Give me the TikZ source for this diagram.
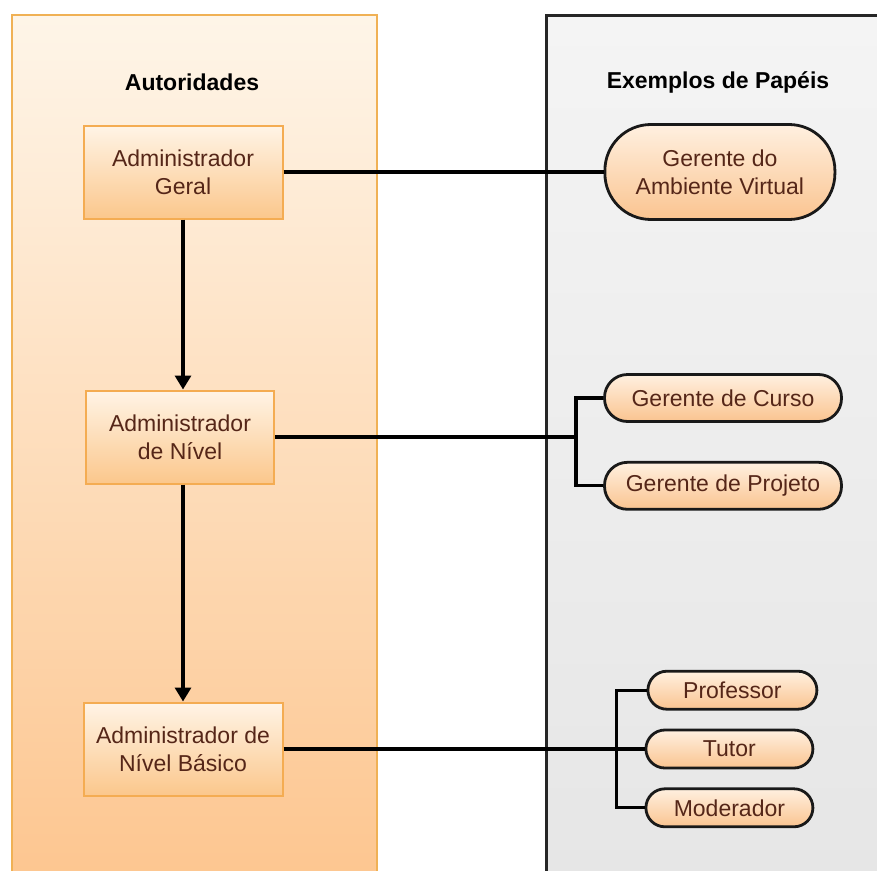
\documentclass[tikz,border=0pt]{standalone}
\usepackage{fontspec}
\setmainfont{Liberation Sans}
\usepackage{xcolor}
\usetikzlibrary{positioning}
\usetikzlibrary{arrows.meta}
\definecolor{panelTop}{HTML}{FEF5E8}
\definecolor{panelBot}{HTML}{FDC690}
\definecolor{panelLine}{HTML}{F0B155}
\definecolor{grayTop}{HTML}{F4F4F4}
\definecolor{grayBot}{HTML}{E6E6E6}
\definecolor{boxTop}{HTML}{FFF4E6}
\definecolor{boxBot}{HTML}{FBC78C}
\definecolor{boxLine}{HTML}{F4AC52}
\definecolor{pillTop}{HTML}{FFF0E0}
\definecolor{pillBot}{HTML}{FAC490}
\definecolor{txt}{HTML}{552618}
\tikzset{adm/.style={rectangle, draw=boxLine, line width=2pt, top color=boxTop, bottom color=boxBot, text=txt, align=center, minimum width=199pt, minimum height=93pt, font=\fontsize{23}{28}\selectfont}}
\tikzset{pill/.style={rectangle, rounded corners=19pt, draw=black!90, line width=2.8pt, top color=pillTop, bottom color=pillBot, text=txt, align=center, font=\fontsize{23}{28}\selectfont}}
\tikzset{link/.style={line width=3.2pt}}
\tikzset{head/.style={font=\bfseries\fontsize{23}{28}\selectfont}}

\begin{document}
\begin{tikzpicture}[x=1pt, y=-1pt, node distance=38pt]
\useasboundingbox (0,0) rectangle (877,870);
\clip (0,0) rectangle (877,870);
\draw[panelLine, line width=2.5pt, top color=panelTop, bottom color=panelBot] (12,15) rectangle (377,880);
\draw[black!85, line width=3pt, top color=grayTop, bottom color=grayBot] (546,15) rectangle (890,880);

\node[head] (tAut) at (192,82) {Autoridades};
\node[head] (tPap) at (718,82) {Exemplos de Papéis};

\node[adm] (adm1) at (183,172) {Administrador\\Geral};
\node[adm, minimum width=188pt, below=170pt of adm1, xshift=-3pt] (adm2) {Administrador\\de Nível};
\node[adm, below=217pt of adm2, xshift=3pt] (adm3) {Administrador de\\Nível Básico};

\node[pill, minimum width=230pt, minimum height=95pt, rounded corners=46pt, right=320pt of adm1] (gav) {Gerente do\\Ambiente Virtual};
\node[pill, minimum width=237pt, minimum height=47pt, rounded corners=23pt] (gcur) at (723,398) {Gerente de Curso};
\node[pill, minimum width=237pt, minimum height=47pt, rounded corners=23pt, below=of gcur] (gproj) {Gerente de Projeto};
\node[pill, minimum width=167pt, minimum height=38pt, right=361pt of adm3] (tutor) {Tutor};
\node[pill, minimum width=169pt, minimum height=38pt, above=18pt of tutor, xshift=3pt] (prof) {Professor};
\node[pill, minimum width=167pt, minimum height=38pt, below=18pt of tutor] (mod) {Moderador};

\coordinate[right=301pt of adm2.east] (br2);
\coordinate[right=333pt of adm3.east] (br3);

\draw[link] (adm1) -- (gav);
\draw[link, -{Triangle[width=16pt,length=14pt]}] (adm1.south) -- (adm1.south |- adm2.north);
\draw[link, -{Triangle[width=16pt,length=14pt]}] (adm2.south -| adm3.north) -- (adm3.north);
\draw[link] (adm2.east) -- (br2);
\draw[link] (gcur.west) -| (br2) |- (gproj.west);
\draw[link] (adm3) -- (tutor);
\draw[link] (prof.west) -| (br3) |- (mod.west);
\end{tikzpicture}
\end{document}
